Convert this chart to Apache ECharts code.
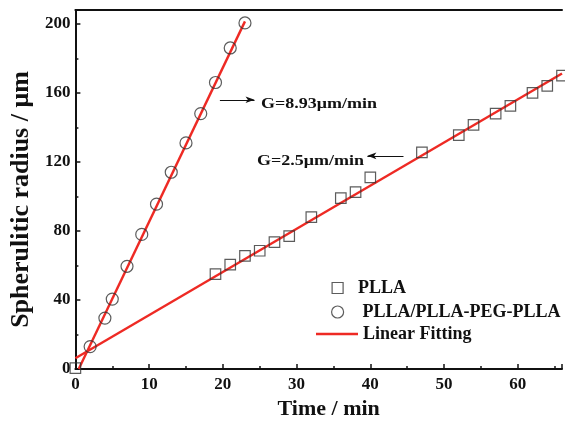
<!DOCTYPE html>
<html>
<head>
<meta charset="utf-8">
<script src="https://cdn.jsdelivr.net/npm/echarts@6/dist/echarts.min.js"></script>
<style>
  html, body { margin: 0; padding: 0; background: #fff; }
  #chart { width: 565px; height: 425px; }
</style>
</head>
<body>
<div id="chart"></div>
<script>
// PLLA (squares)
const pllaTime = [0, 19, 21, 23, 25, 27, 29, 32, 36, 38, 40, 47, 52, 54, 57, 59, 62, 64, 66];
const pllaRadius = [0.5, 55, 60.5, 65.5, 68.5, 73.5, 77, 88, 99, 102.5, 111, 125.5, 135.5, 141.5, 148, 152.5, 160, 164, 170];
// PLLA/PLLA-PEG-PLLA (circles)
const blendTime = [2, 4, 5, 7, 9, 11, 13, 15, 17, 19, 21, 23];
const blendRadius = [13, 29.5, 40.5, 59.5, 78, 95.5, 114, 131, 148, 166, 186, 200.5];
// fitted lines, end points
const fitBlend = [[0.45, 0], [23, 201.4]];
const fitPlla = [[0, 6.2], [66, 171.2]];
const xTicks = [0, 10, 20, 30, 40, 50, 60];
const yTicks = [0, 40, 80, 120, 160, 200];

const font = "'Liberation Serif', 'Times New Roman', serif";
const ink = "#111";
const red = "#ee2a24";
const markEdge = "#333";

const pair = (xs, ys) => xs.map((x, i) => [x, ys[i]]);

const chart = echarts.init(document.getElementById("chart"), null, { renderer: "canvas" });

const arrowLine = (from, to) => ({
  silent: true,
  symbol: ["none", "arrow"],
  symbolSize: [5, 9],
  label: { show: false },
  lineStyle: { color: ink, width: 1, type: "solid" },
  emphasis: { disabled: true },
  data: [[{ coord: from }, { coord: to }]],
});

const legendText = (padLeft) => ({
  fontFamily: font, fontWeight: "bold", fontSize: 18, color: ink, padding: [0, 0, 0, padLeft],
});

chart.setOption({
  animation: false,
  textStyle: { fontFamily: font },
  grid: { left: 71.7, right: 0, top: 10, bottom: 43.7, containLabel: false },
  legend: [
    {
      left: 326.5, top: 274, itemWidth: 11, itemHeight: 11, selectedMode: false,
      textStyle: legendText(10),
      data: [{ name: "PLLA", icon: "rect", itemStyle: { color: "transparent", borderColor: markEdge, borderWidth: 1.2 } }],
    },
    {
      left: 326, top: 298, itemWidth: 12, itemHeight: 12, selectedMode: false,
      textStyle: legendText(14),
      data: [{ name: "PLLA/PLLA-PEG-PLLA", icon: "circle", itemStyle: { color: "transparent", borderColor: markEdge, borderWidth: 1.2 } }],
    },
    {
      left: 311, top: 320, itemWidth: 42, itemHeight: 2.6, selectedMode: false,
      textStyle: legendText(0),
      data: [{ name: "Linear Fitting", icon: "rect", itemStyle: { color: red } }],
    },
  ],
  xAxis: [
    {
      type: "value",
      min: 0,
      max: 66,
      interval: 10,
      name: "Time / min",
      nameLocation: "middle",
      nameGap: 29,
      nameTextStyle: { fontFamily: font, fontWeight: "bold", fontSize: 22, color: ink, padding: [0, 0, 0, 20] },
      axisLine: { lineStyle: { color: ink, width: 2 } },
      axisTick: { inside: true, length: 5, lineStyle: { color: ink, width: 1.5 } },
      minorTick: { show: true, splitNumber: 2, length: 3, lineStyle: { color: ink, width: 1.5 } },
      splitLine: { show: false },
      axisLabel: {
        fontFamily: font, fontWeight: "bold", fontSize: 17, color: ink, margin: 7,
        formatter: (v) => (xTicks.includes(v) ? String(v) : ""),
      },
    },
    {
      type: "value",
      position: "top",
      min: 0,
      max: 66,
      axisLine: { show: true, onZero: false, lineStyle: { color: ink, width: 2 } },
      axisTick: { show: false },
      axisLabel: { show: false },
      splitLine: { show: false },
    },
  ],
  yAxis: {
    type: "value",
    min: 0,
    max: 208,
    interval: 40,
    name: "Spherulitic radius / \u03bcm",
    nameLocation: "middle",
    nameGap: 37,
    nameTextStyle: { fontFamily: font, fontWeight: "bold", fontSize: 26, color: ink, padding: [0, 20, 0, 0] },
    axisLine: { show: true, lineStyle: { color: ink, width: 2 } },
    axisTick: { inside: true, length: 5, lineStyle: { color: ink, width: 1.5 } },
    minorTick: { show: true, splitNumber: 2, length: 3, lineStyle: { color: ink, width: 1.5 } },
    splitLine: { show: false },
    axisLabel: {
      fontFamily: font, fontWeight: "bold", fontSize: 17, color: ink, margin: 5,
      formatter: (v) => (yTicks.includes(v) ? String(v) : ""),
    },
  },
  series: [
    {
      name: "Linear Fitting",
      type: "line",
      data: fitBlend,
      symbol: "none",
      lineStyle: { color: red, width: 2.4 },
      itemStyle: { color: red },
      z: 3,
      markLine: arrowLine([19.6, 156], [24.3, 156]),
    },
    {
      name: "Linear Fitting",
      type: "line",
      data: fitPlla,
      symbol: "none",
      lineStyle: { color: red, width: 2.4 },
      itemStyle: { color: red },
      z: 3,
      markLine: arrowLine([44.5, 123.5], [39.6, 123.5]),
    },
    {
      name: "PLLA",
      type: "scatter",
      data: pair(pllaTime, pllaRadius),
      symbol: "rect",
      symbolSize: 10.5,
      itemStyle: { color: "transparent", borderColor: markEdge, borderWidth: 1.2 },
      z: 4,
    },
    {
      name: "PLLA/PLLA-PEG-PLLA",
      type: "scatter",
      data: pair(blendTime, blendRadius),
      symbol: "circle",
      symbolSize: 12,
      itemStyle: { color: "transparent", borderColor: markEdge, borderWidth: 1.2 },
      z: 4,
    },
  ],
  graphic: [
    {
      type: "text",
      x: 261,
      y: 104,
      scaleX: 1.2,
      style: { text: "G=8.93\u03bcm/min", font: "bold 15px " + font, fill: ink, verticalAlign: "middle" },
    },
    {
      type: "text",
      x: 257,
      y: 161,
      scaleX: 1.2,
      style: { text: "G=2.5\u03bcm/min", font: "bold 15px " + font, fill: ink, verticalAlign: "middle" },
    },
  ],
});
</script>
</body>
</html>
